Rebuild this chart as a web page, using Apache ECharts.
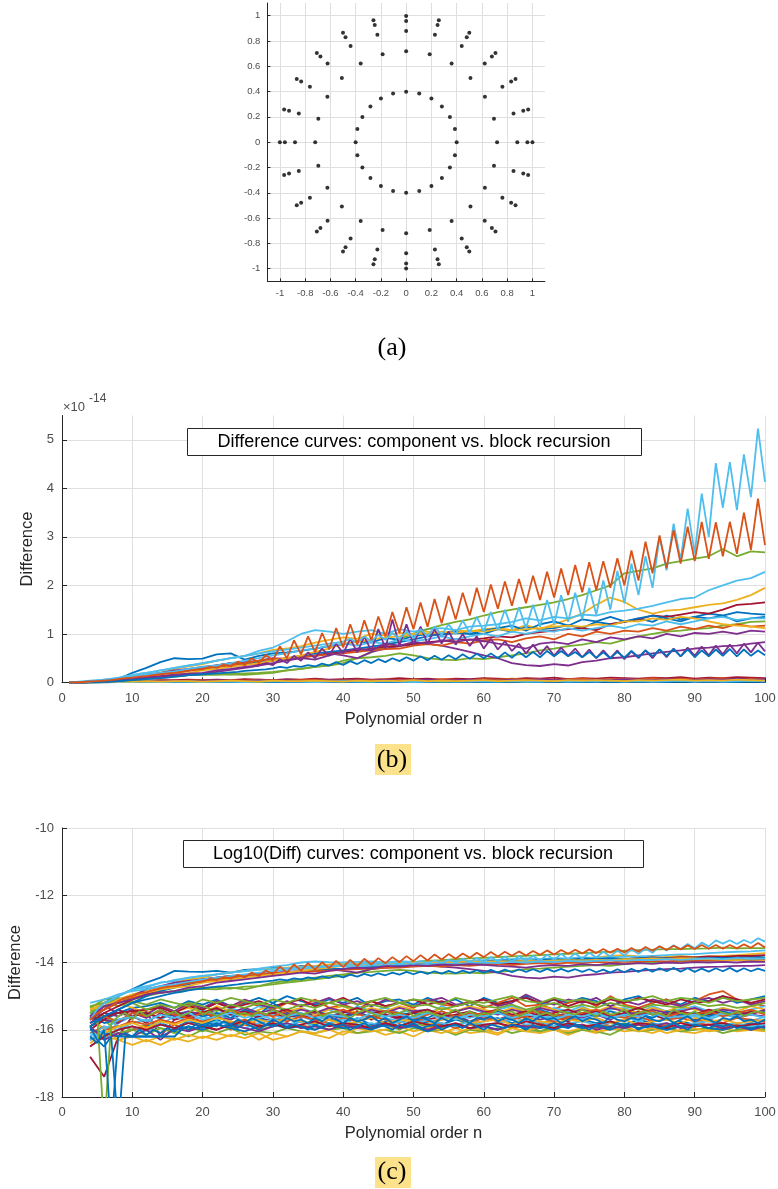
<!DOCTYPE html>
<html>
<head>
<meta charset="utf-8">
<script src="https://cdn.jsdelivr.net/npm/echarts@6.0.0/dist/echarts.min.js"></script>
<style>
  html, body { margin: 0; padding: 0; background: #fff; }
  #chart { width: 778px; height: 1189px; }
</style>
</head>
<body>
<div id="chart"></div>
<script>
// ---------- panel (a): node layout ----------
const nodeRadii = [0.4, 0.72, 0.88, 0.96, 1.0];
const nodeAngles = [0, 15, 30, 45, 60, 75, 90, 105, 120, 135, 150, 165,
  180, 195, 210, 225, 240, 255, 270, 285, 300, 315, 330, 345];
const aTicks = [-1, -0.8, -0.6, -0.4, -0.2, 0, 0.2, 0.4, 0.6, 0.8, 1];

// ---------- x positions (polynomial order n) ----------
const nDiff1 = []; for (let n = 1; n <= 100; n++) nDiff1.push(n);
const nDiff2 = [1]; for (let n = 2; n <= 100; n += 2) nDiff2.push(n);
const nLog1 = []; for (let n = 4; n <= 100; n++) nLog1.push(n);
const nLog2 = []; for (let n = 4; n <= 100; n += 2) nLog2.push(n);

// ---------- panel (b): difference (units of 1e-14) ----------
// zigzag curves, every n = 1..100
const diffOrangeZig = [0, 0, 0.01, 0.02, 0.03, 0.04, 0.05, 0.07, 0.09, 0.1,
  0.12, 0.13, 0.15, 0.17, 0.19, 0.2, 0.22, 0.24, 0.26, 0.27,
  0.32, 0.3, 0.37, 0.33, 0.43, 0.36, 0.5, 0.4, 0.57, 0.45,
  0.75, 0.5, 0.87, 0.58, 0.95, 0.62, 1.02, 0.68, 1.12, 0.72,
  1.2, 0.78, 1.28, 0.87, 1.36, 0.95, 1.45, 1.02, 1.55, 1.1,
  1.65, 1.15, 1.72, 1.22, 1.78, 1.3, 1.85, 1.38, 1.95, 1.45,
  2.02, 1.52, 2.08, 1.58, 2.13, 1.63, 2.2, 1.7, 2.28, 1.75,
  2.35, 1.8, 2.42, 1.86, 2.48, 1.9, 2.5, 1.95, 2.56, 2.0,
  2.72, 2.1, 2.9, 2.25, 3.03, 2.35, 3.14, 2.45, 3.21, 2.5,
  3.31, 2.55, 3.3, 2.6, 3.31, 2.65, 3.5, 2.73, 3.79, 2.83];
const diffCyanZig = [0, 0, 0.01, 0.02, 0.04, 0.06, 0.08, 0.1, 0.13, 0.15,
  0.18, 0.2, 0.22, 0.25, 0.27, 0.3, 0.32, 0.35, 0.37, 0.4,
  0.42, 0.45, 0.47, 0.5, 0.52, 0.55, 0.57, 0.6, 0.62, 0.64,
  0.66, 0.68, 0.7, 0.72, 0.74, 0.76, 0.78, 0.8, 0.82, 0.84,
  0.9, 0.82, 0.95, 0.85, 0.98, 0.88, 1.02, 0.9, 1.05, 0.92,
  1.1, 0.95, 1.15, 0.98, 1.2, 1.0, 1.28, 1.02, 1.35, 1.05,
  1.45, 1.08, 1.5, 1.1, 1.55, 1.12, 1.6, 1.15, 1.7, 1.2,
  1.8, 1.25, 1.85, 1.3, 1.95, 1.4, 2.1, 1.5, 2.3, 1.63,
  2.45, 1.8, 2.6, 1.95, 3.0, 2.31, 3.27, 2.52, 3.58, 2.66,
  3.89, 3.0, 4.52, 3.6, 4.54, 3.55, 4.7, 3.82, 5.23, 4.13];
const diffBlueZig = [0, 0, 0, 0.005, 0.01, 0.02, 0.025, 0.03, 0.04, 0.05,
  0.06, 0.07, 0.08, 0.09, 0.1, 0.12, 0.13, 0.15, 0.16, 0.17,
  0.18, 0.19, 0.2, 0.21, 0.22, 0.24, 0.25, 0.26, 0.27, 0.29,
  0.32, 0.3, 0.34, 0.32, 0.36, 0.33, 0.39, 0.35, 0.42, 0.36,
  0.44, 0.38, 0.46, 0.4, 0.48, 0.42, 0.5, 0.44, 0.52, 0.45,
  0.54, 0.46, 0.55, 0.47, 0.56, 0.48, 0.58, 0.49, 0.59, 0.5,
  0.6, 0.5, 0.62, 0.51, 0.63, 0.52, 0.63, 0.52, 0.65, 0.54,
  0.65, 0.54, 0.63, 0.52, 0.63, 0.51, 0.62, 0.5, 0.63, 0.51,
  0.65, 0.52, 0.66, 0.54, 0.68, 0.55, 0.69, 0.54, 0.68, 0.52,
  0.66, 0.54, 0.68, 0.55, 0.69, 0.54, 0.68, 0.55, 0.66, 0.56];
const diffPurpleZig = [0, 0, 0.01, 0.02, 0.03, 0.04, 0.05, 0.06, 0.07, 0.08,
  0.09, 0.1, 0.11, 0.12, 0.13, 0.14, 0.15, 0.16, 0.17, 0.18,
  0.2, 0.22, 0.24, 0.26, 0.28, 0.3, 0.32, 0.35, 0.4, 0.36,
  0.48, 0.4, 0.55, 0.45, 0.62, 0.5, 0.7, 0.55, 0.8, 0.6,
  0.9, 0.62, 0.95, 0.65, 1.1, 0.7, 1.3, 0.75, 1.2, 0.78,
  1.15, 0.8, 1.1, 0.8, 1.05, 0.78, 1.0, 0.75, 0.95, 0.7,
  0.9, 0.68, 0.85, 0.65, 0.8, 0.6, 0.78, 0.58, 0.75, 0.55,
  0.72, 0.55, 0.7, 0.52, 0.68, 0.5, 0.66, 0.5, 0.66, 0.48,
  0.64, 0.5, 0.66, 0.5, 0.68, 0.52, 0.7, 0.54, 0.72, 0.55,
  0.74, 0.56, 0.76, 0.58, 0.78, 0.6, 0.8, 0.62, 0.82, 0.64];

// smoother curves, n = 1, 2, 4, ..., 100
const diffCurves = [
  [0, 0, 0.01, 0.03, 0.07, 0.2, 0.3, 0.42, 0.5, 0.48, 0.49,
   0.58, 0.6, 0.47, 0.55, 0.6, 0.62, 0.65, 0.7, 0.75, 0.78,
   0.85, 0.82, 0.92, 0.88, 0.95, 1.0, 0.98, 1.02, 1.0, 1.0,
   1.1, 1.05, 1.15, 1.1, 1.12, 1.18, 1.12, 1.25, 1.2, 1.25,
   1.32, 1.25, 1.38, 1.3, 1.35, 1.42, 1.38, 1.45, 1.42, 1.4],
  [0, 0, 0.01, 0.03, 0.05, 0.08, 0.12, 0.2, 0.28, 0.33, 0.38,
   0.45, 0.5, 0.55, 0.6, 0.67, 0.7, 0.75, 0.82, 0.88, 0.93,
   0.9, 1.0, 0.97, 1.02, 1.0, 1.05, 1.0, 1.08, 1.05, 1.1,
   1.12, 1.08, 1.18, 1.1, 1.2, 1.3, 1.42, 1.6, 1.75, 1.66,
   1.5, 1.42, 1.48, 1.5, 1.55, 1.6, 1.63, 1.7, 1.8, 1.95],
  [0, 0, 0.01, 0.03, 0.08, 0.15, 0.2, 0.25, 0.3, 0.35, 0.4,
   0.45, 0.5, 0.55, 0.65, 0.72, 0.85, 1.0, 1.08, 1.05, 1.0,
   1.05, 1.08, 1.0, 1.1, 1.05, 1.1, 1.12, 1.08, 1.15, 1.17,
   1.2, 1.25, 1.32, 1.28, 1.35, 1.32, 1.4, 1.38, 1.45, 1.48,
   1.52, 1.58, 1.65, 1.72, 1.75, 1.9, 2.0, 2.1, 2.15, 2.28],
  [0, 0, 0.01, 0.02, 0.04, 0.06, 0.08, 0.1, 0.12, 0.15, 0.17,
   0.18, 0.17, 0.19, 0.2, 0.22, 0.25, 0.28, 0.32, 0.35, 0.4,
   0.5, 0.62, 0.75, 0.9, 1.0, 1.1, 1.18, 1.25, 1.3, 1.38,
   1.45, 1.5, 1.55, 1.6, 1.65, 1.72, 1.8, 1.9, 2.0, 2.25,
   2.3, 2.35, 2.45, 2.5, 2.55, 2.6, 2.75, 2.6, 2.7, 2.68],
  [0, 0, 0.01, 0.02, 0.03, 0.05, 0.08, 0.1, 0.12, 0.15, 0.16,
   0.16, 0.17, 0.16, 0.18, 0.2, 0.25, 0.28, 0.32, 0.36, 0.45,
   0.5, 0.52, 0.55, 0.6, 0.56, 0.5, 0.47, 0.46, 0.5, 0.48,
   0.52, 0.56, 0.6, 0.66, 0.7, 0.75, 0.78, 0.83, 0.8, 0.88,
   0.95, 1.0, 1.05, 1.07, 1.1, 1.12, 1.17, 1.2, 1.25, 1.26],
  [0, 0, 0.01, 0.02, 0.04, 0.1, 0.16, 0.2, 0.25, 0.28, 0.32,
   0.35, 0.4, 0.42, 0.45, 0.5, 0.48, 0.53, 0.55, 0.6, 0.56,
   0.5, 0.63, 0.7, 0.75, 0.78, 0.8, 0.76, 0.7, 0.63, 0.56,
   0.5, 0.4, 0.36, 0.34, 0.38, 0.35, 0.42, 0.45, 0.5, 0.52,
   0.56, 0.6, 0.63, 0.66, 0.7, 0.72, 0.75, 0.76, 0.8, 0.83],
  [0, 0, 0.01, 0.02, 0.04, 0.08, 0.12, 0.16, 0.2, 0.25, 0.3,
   0.35, 0.4, 0.4, 0.38, 0.45, 0.48, 0.52, 0.56, 0.6, 0.63,
   0.66, 0.7, 0.74, 0.76, 0.8, 0.83, 0.85, 0.89, 0.88, 0.91,
   0.95, 0.93, 1.0, 1.04, 1.07, 1.1, 1.12, 1.08, 1.2, 1.25,
   1.3, 1.38, 1.35, 1.4, 1.45, 1.42, 1.5, 1.6, 1.62, 1.65],
  [0, 0, 0, 0.01, 0.03, 0.06, 0.1, 0.15, 0.2, 0.25, 0.28,
   0.32, 0.35, 0.4, 0.42, 0.45, 0.5, 0.55, 0.6, 0.63, 0.66,
   0.7, 0.74, 0.78, 0.83, 0.89, 0.95, 1.0, 1.05, 1.0, 1.07,
   1.12, 1.17, 1.07, 1.2, 1.26, 1.17, 1.3, 1.26, 1.35, 1.26,
   1.32, 1.38, 1.32, 1.26, 1.35, 1.32, 1.38, 1.26, 1.32, 1.35],
  [0, 0, 0.01, 0.02, 0.05, 0.08, 0.12, 0.16, 0.2, 0.25, 0.28,
   0.32, 0.35, 0.4, 0.45, 0.48, 0.5, 0.52, 0.55, 0.58, 0.6,
   0.63, 0.66, 0.69, 0.7, 0.76, 0.79, 0.76, 0.83, 0.8, 0.87,
   0.89, 0.83, 0.91, 0.95, 0.89, 1.0, 0.95, 1.05, 1.0, 1.07,
   1.05, 1.12, 1.07, 1.15, 1.1, 1.17, 1.12, 1.2, 1.15, 1.17],
  [0, 0, 0.01, 0.03, 0.06, 0.1, 0.13, 0.16, 0.18, 0.2, 0.25,
   0.28, 0.32, 0.36, 0.4, 0.45, 0.5, 0.56, 0.63, 0.7, 0.8,
   0.83, 0.89, 0.93, 0.95, 1.0, 1.0, 1.05, 1.02, 1.07, 1.05,
   1.1, 1.07, 1.1, 1.12, 1.15, 1.17, 1.15, 1.2, 1.17, 1.26,
   1.26, 1.32, 1.29, 1.35, 1.32, 1.26, 1.2, 1.17, 1.15, 1.12],
  [0, 0.01, 0.04, 0.06, 0.08, 0.12, 0.16, 0.2, 0.23, 0.28, 0.32,
   0.35, 0.4, 0.45, 0.5, 0.56, 0.6, 0.66, 0.7, 0.76, 0.8,
   0.76, 0.83, 0.8, 0.89, 0.85, 0.89, 0.95, 0.89, 0.95, 1.0,
   0.95, 1.05, 1.0, 1.07, 1.05, 1.12, 1.07, 1.12, 1.17, 1.12,
   1.2, 1.17, 1.26, 1.2, 1.26, 1.32, 1.35, 1.29, 1.32, 1.32],
  [0, 0, 0.01, 0.03, 0.06, 0.08, 0.11, 0.13, 0.16, 0.18, 0.2,
   0.25, 0.28, 0.32, 0.35, 0.4, 0.45, 0.5, 0.47, 0.56, 0.63,
   0.7, 0.66, 0.8, 0.76, 0.83, 0.8, 0.87, 0.83, 0.89, 0.85,
   0.8, 0.76, 0.7, 0.8, 0.83, 0.79, 0.89, 0.83, 0.93, 0.89,
   0.95, 0.91, 1.0, 0.95, 1.02, 1.0, 1.05, 1.0, 1.07, 1.05]
];
const diffCurveColors = ['blue', 'yellow', 'cyan', 'green', 'green', 'purple',
  'red', 'blue', 'orange', 'yellow', 'cyan', 'purple'];

// curves that stay near zero, n = 1, 2, 4, ..., 100
const diffFloor = [
  [0, 0, 0, 0, 0.01, 0.01, 0.01, 0.01, 0.01, 0.01, 0.01,
   0.01, 0.01, 0.01, 0.01, 0.01, 0.01, 0.01, 0.01, 0.01, 0.01,
   0.01, 0.01, 0.01, 0.01, 0.01, 0.01, 0.01, 0.01, 0.02, 0.01,
   0.01, 0.02, 0.01, 0.01, 0.02, 0.01, 0.01, 0.02, 0.01, 0.01,
   0.02, 0.01, 0.01, 0.02, 0.01, 0.02, 0.01, 0.01, 0.02, 0.01],
  [0, 0, 0.01, 0.02, 0.03, 0.04, 0.04, 0.05, 0.05, 0.06, 0.05,
   0.06, 0.05, 0.07, 0.06, 0.05, 0.07, 0.06, 0.08, 0.06, 0.07,
   0.08, 0.06, 0.07, 0.09, 0.07, 0.08, 0.06, 0.08, 0.07, 0.09,
   0.08, 0.07, 0.09, 0.08, 0.1, 0.07, 0.09, 0.08, 0.1, 0.09,
   0.08, 0.1, 0.09, 0.11, 0.08, 0.1, 0.09, 0.11, 0.1, 0.09],
  [0, 0, 0.01, 0.01, 0.02, 0.03, 0.03, 0.04, 0.03, 0.04, 0.05,
   0.04, 0.05, 0.04, 0.06, 0.05, 0.04, 0.05, 0.06, 0.05, 0.04,
   0.06, 0.05, 0.07, 0.05, 0.06, 0.05, 0.07, 0.06, 0.05, 0.07,
   0.06, 0.08, 0.06, 0.07, 0.05, 0.07, 0.08, 0.06, 0.07, 0.08,
   0.06, 0.09, 0.07, 0.08, 0.06, 0.08, 0.09, 0.07, 0.08, 0.07],
  [0, 0, 0, 0.01, 0.01, 0.02, 0.02, 0.02, 0.03, 0.02, 0.03,
   0.02, 0.03, 0.03, 0.02, 0.03, 0.04, 0.03, 0.02, 0.03, 0.04,
   0.03, 0.02, 0.04, 0.03, 0.03, 0.04, 0.02, 0.03, 0.04, 0.03,
   0.04, 0.03, 0.02, 0.04, 0.03, 0.04, 0.03, 0.05, 0.03, 0.04,
   0.03, 0.04, 0.05, 0.03, 0.04, 0.03, 0.05, 0.04, 0.03, 0.04],
  [0, 0, 0.01, 0.01, 0.02, 0.02, 0.03, 0.03, 0.04, 0.03, 0.04,
   0.05, 0.04, 0.03, 0.05, 0.04, 0.05, 0.03, 0.04, 0.05, 0.04,
   0.05, 0.04, 0.06, 0.04, 0.05, 0.06, 0.04, 0.05, 0.06, 0.05,
   0.04, 0.06, 0.05, 0.07, 0.05, 0.06, 0.04, 0.06, 0.05, 0.07,
   0.06, 0.05, 0.07, 0.06, 0.05, 0.07, 0.06, 0.08, 0.06, 0.07],
  [0, 0, 0, 0.01, 0.01, 0.01, 0.02, 0.01, 0.02, 0.02, 0.01,
   0.02, 0.02, 0.01, 0.02, 0.03, 0.02, 0.02, 0.01, 0.02, 0.03,
   0.02, 0.02, 0.03, 0.02, 0.01, 0.02, 0.03, 0.02, 0.02, 0.03,
   0.02, 0.03, 0.02, 0.02, 0.03, 0.02, 0.03, 0.02, 0.04, 0.02,
   0.03, 0.02, 0.03, 0.04, 0.02, 0.03, 0.02, 0.03, 0.04, 0.03],
  [0, 0, 0, 0.01, 0.02, 0.02, 0.03, 0.02, 0.03, 0.03, 0.02,
   0.03, 0.04, 0.03, 0.02, 0.04, 0.03, 0.03, 0.04, 0.03, 0.02,
   0.04, 0.03, 0.04, 0.03, 0.05, 0.03, 0.04, 0.03, 0.04, 0.05,
   0.03, 0.04, 0.05, 0.04, 0.03, 0.05, 0.04, 0.05, 0.04, 0.03,
   0.05, 0.04, 0.05, 0.06, 0.04, 0.05, 0.04, 0.06, 0.05, 0.04]
];
const diffFloorColors = ['blue', 'red', 'orange', 'green', 'purple', 'cyan', 'yellow'];

// ---------- panel (c): log10(difference) ----------
// zigzag curves, every n = 4..100
const logOrangeZig = [-15.7, -15.52, -15.4, -15.3, -15.15, -15.05, -15.0, -14.92, -14.89, -14.82,
  -14.77, -14.72, -14.7, -14.66, -14.62, -14.59, -14.57, -14.49, -14.52, -14.43,
  -14.48, -14.37, -14.44, -14.3, -14.4, -14.24, -14.35, -14.12, -14.3, -14.06,
  -14.24, -14.02, -14.21, -13.99, -14.17, -13.95, -14.14, -13.92, -14.11, -13.89,
  -14.06, -13.87, -14.02, -13.84, -13.99, -13.81, -13.96, -13.78, -13.94, -13.76,
  -13.91, -13.75, -13.89, -13.73, -13.86, -13.71, -13.84, -13.69, -13.82, -13.68,
  -13.8, -13.67, -13.79, -13.66, -13.77, -13.64, -13.76, -13.63, -13.74, -13.62,
  -13.73, -13.61, -13.72, -13.6, -13.71, -13.59, -13.7, -13.57, -13.68, -13.54,
  -13.65, -13.52, -13.63, -13.5, -13.61, -13.49, -13.6, -13.48, -13.59, -13.48,
  -13.59, -13.48, -13.58, -13.46, -13.56, -13.42, -13.55];
const logCyanZig = [-15.7, -15.4, -15.22, -15.1, -15.0, -14.89, -14.82, -14.74, -14.7, -14.66,
  -14.6, -14.57, -14.52, -14.49, -14.46, -14.43, -14.4, -14.38, -14.35, -14.33,
  -14.3, -14.28, -14.26, -14.24, -14.22, -14.21, -14.19, -14.18, -14.17, -14.15,
  -14.14, -14.13, -14.12, -14.11, -14.1, -14.09, -14.08, -14.05, -14.09, -14.02,
  -14.07, -14.01, -14.06, -13.99, -14.05, -13.98, -14.04, -13.96, -14.02, -13.94,
  -14.01, -13.92, -14.0, -13.89, -13.99, -13.87, -13.98, -13.84, -13.97, -13.82,
  -13.96, -13.81, -13.95, -13.8, -13.94, -13.77, -13.92, -13.74, -13.9, -13.73,
  -13.89, -13.71, -13.85, -13.68, -13.82, -13.64, -13.79, -13.61, -13.74, -13.59,
  -13.71, -13.52, -13.64, -13.49, -13.6, -13.45, -13.58, -13.41, -13.52, -13.34,
  -13.44, -13.34, -13.45, -13.33, -13.42, -13.28, -13.38];
const logBlueZig = [-15.8, -15.7, -15.6, -15.5, -15.4, -15.3, -15.2, -15.15, -15.1, -15.05,
  -15.0, -14.95, -14.9, -14.87, -14.83, -14.8, -14.77, -14.74, -14.72, -14.7,
  -14.67, -14.65, -14.62, -14.6, -14.58, -14.56, -14.54, -14.5, -14.53, -14.47,
  -14.5, -14.44, -14.48, -14.41, -14.46, -14.38, -14.44, -14.36, -14.42, -14.34,
  -14.4, -14.32, -14.38, -14.3, -14.36, -14.28, -14.35, -14.27, -14.34, -14.26,
  -14.33, -14.25, -14.32, -14.24, -14.31, -14.23, -14.3, -14.22, -14.3, -14.21,
  -14.29, -14.2, -14.28, -14.2, -14.28, -14.19, -14.27, -14.19, -14.27, -14.2,
  -14.28, -14.2, -14.29, -14.21, -14.3, -14.2, -14.29, -14.19, -14.28, -14.18,
  -14.27, -14.17, -14.26, -14.16, -14.27, -14.17, -14.28, -14.18, -14.27, -14.17,
  -14.26, -14.16, -14.27, -14.17, -14.26, -14.18, -14.25];

// curves that drop out at small n (log of zero), every n = 4..100
const logDrop = [
  [-15.3, -15.5, -19, -15.8, -15.6, -15.5, -15.7, -15.45, -15.6, -15.5,
   -15.4, -15.55, -15.45, -15.6, -15.5, -15.35, -15.55, -15.45, -15.6, -15.5,
   -15.4, -15.55, -15.5, -15.6, -15.45, -15.55, -15.4, -15.5, -15.6, -15.45,
   -15.55, -15.5, -15.4, -15.6, -15.5, -15.45, -15.55, -15.65, -15.5, -15.4,
   -15.5, -15.6, -15.45, -15.55, -15.5, -15.4, -15.6, -15.5, -15.45, -15.55,
   -15.6, -15.5, -15.4, -15.55, -15.45, -15.6, -15.5, -15.55, -15.4, -15.5,
   -15.45, -15.6, -15.5, -15.4, -15.55, -15.5, -15.6, -15.45, -15.5, -15.55,
   -15.4, -15.5, -15.6, -15.45, -15.55, -15.5, -15.4, -15.6, -15.5, -15.45,
   -15.55, -15.5, -15.6, -15.4, -15.5, -15.55, -15.45, -15.6, -15.5, -15.4,
   -15.5, -15.55, -15.45, -15.6, -15.5, -15.45, -15.5],
  [-16.2, -16.4, -16.0, -19, -16.2, -16.1, -16.2, -16.0, -16.15, -16.0,
   -16.1, -15.95, -16.05, -15.9, -16.0, -15.85, -15.95, -15.8, -15.9, -15.75,
   -15.85, -15.7, -15.8, -15.65, -15.75, -15.85, -15.7, -15.8, -15.65, -15.75,
   -15.7, -15.8, -15.65, -15.75, -15.6, -15.7, -15.8, -15.65, -15.75, -15.7,
   -15.6, -15.75, -15.65, -15.8, -15.7, -15.6, -15.75, -15.65, -15.7, -15.8,
   -15.65, -15.75, -15.6, -15.7, -15.8, -15.65, -15.7, -15.6, -15.75, -15.65,
   -15.7, -15.8, -15.65, -15.75, -15.6, -15.7, -15.65, -15.8, -15.7, -15.6,
   -15.75, -15.65, -15.7, -15.8, -15.6, -15.7, -15.75, -15.65, -15.7, -15.6,
   -15.7, -15.75, -15.65, -15.8, -15.7, -15.6, -15.75, -15.65, -15.7, -15.8,
   -15.65, -15.7, -15.6, -15.75, -15.7, -15.8, -15.7],
  [-15.9, -16.3, -16.5, -16.2, -19, -16.2, -16.2, -16.2, -16.2, -16.2,
   -16.2, -16.2, -16.2, -16.0, -15.9, -15.95, -15.85, -15.9, -15.8, -15.9,
   -15.85, -15.95, -15.8, -15.9, -16.0, -15.85, -15.9, -15.8, -15.95, -15.85,
   -15.9, -16.0, -15.85, -15.95, -15.8, -15.9, -15.85, -16.0, -15.9, -15.8,
   -15.95, -15.85, -15.9, -16.0, -15.85, -15.9, -15.8, -15.95, -15.9, -15.85,
   -16.0, -15.9, -15.85, -15.95, -15.8, -15.9, -16.0, -15.85, -15.9, -15.95,
   -15.85, -15.9, -16.0, -15.85, -15.95, -15.9, -15.8, -15.9, -15.95, -15.85,
   -15.9, -16.0, -15.85, -15.9, -15.95, -15.8, -15.9, -15.85, -16.0, -15.9,
   -15.85, -15.95, -15.9, -15.8, -15.9, -16.0, -15.85, -15.9, -15.95, -15.85,
   -15.9, -15.85, -15.95, -15.9, -16.0, -15.9, -15.95]
];
const logDropColors = ['green', 'blue', 'blue'];

// upper band, n = 4, 6, ..., 100
const logUpper = [
  [-15.6, -15.2, -15.0, -14.8, -14.6, -14.45, -14.25, -14.27, -14.28, -14.25, -14.3, -14.22, -14.2, -14.15,
   -14.18, -14.1, -14.12, -14.08, -14.1, -14.05, -14.08, -14.02, -14.05, -14.0, -14.03, -13.98, -14.0, -13.97,
   -14.0, -13.95, -13.98, -13.93, -13.96, -13.92, -13.95, -13.9, -13.93, -13.88, -13.9, -13.87, -13.9, -13.85,
   -13.88, -13.84, -13.86, -13.83, -13.85, -13.82, -13.85],
  [-15.4, -15.2, -15.1, -14.95, -14.85, -14.75, -14.6, -14.5, -14.45, -14.35, -14.3, -14.25, -14.2, -14.18,
   -14.15, -14.12, -14.1, -14.06, -14.03, -14.05, -14.0, -14.02, -13.98, -14.0, -13.97, -14.0, -13.95, -13.98,
   -13.96, -13.94, -13.97, -13.92, -13.95, -13.93, -13.9, -13.88, -13.85, -13.8, -13.78, -13.82, -13.85, -13.83,
   -13.8, -13.84, -13.82, -13.8, -13.78, -13.75, -13.72],
  [-15.5, -15.3, -15.0, -14.8, -14.75, -14.6, -14.55, -14.45, -14.4, -14.35, -14.3, -14.25, -14.18, -14.12,
   -14.08, -14.0, -13.97, -13.99, -14.0, -13.98, -13.97, -14.0, -13.96, -13.98, -13.95, -13.97, -13.94, -13.96,
   -13.93, -13.92, -13.9, -13.88, -13.9, -13.87, -13.88, -13.85, -13.86, -13.84, -13.83, -13.82, -13.8, -13.78,
   -13.76, -13.75, -13.72, -13.7, -13.68, -13.67, -13.64],
  [-15.3, -15.2, -15.1, -15.05, -14.95, -14.9, -14.85, -14.8, -14.75, -14.75, -14.78, -14.72, -14.7, -14.65,
   -14.6, -14.55, -14.5, -14.45, -14.4, -14.3, -14.2, -14.12, -14.05, -14.0, -13.95, -13.93, -13.9, -13.88,
   -13.86, -13.84, -13.82, -13.8, -13.78, -13.76, -13.74, -13.72, -13.7, -13.68, -13.65, -13.63, -13.62, -13.6,
   -13.6, -13.59, -13.58, -13.56, -13.58, -13.57, -13.57],
  [-15.5, -15.3, -15.2, -15.1, -15.0, -14.9, -14.85, -14.8, -14.78, -14.8, -14.75, -14.8, -14.7, -14.6,
   -14.55, -14.5, -14.45, -14.4, -14.35, -14.3, -14.28, -14.25, -14.22, -14.25, -14.3, -14.32, -14.33, -14.3,
   -14.32, -14.28, -14.25, -14.2, -14.18, -14.15, -14.12, -14.1, -14.08, -14.1, -14.05, -14.02, -14.0, -13.98,
   -13.97, -13.95, -13.95, -13.93, -13.92, -13.9, -13.9],
  [-15.7, -15.4, -15.1, -15.0, -14.8, -14.7, -14.6, -14.55, -14.5, -14.45, -14.4, -14.38, -14.35, -14.3,
   -14.28, -14.25, -14.22, -14.2, -14.25, -14.3, -14.2, -14.15, -14.12, -14.1, -14.08, -14.12, -14.15, -14.2,
   -14.25, -14.3, -14.4, -14.45, -14.47, -14.42, -14.45, -14.38, -14.35, -14.3, -14.28, -14.25, -14.22, -14.2,
   -14.18, -14.15, -14.13, -14.12, -14.1, -14.1, -14.08],
  [-15.8, -15.5, -15.3, -15.1, -14.95, -14.8, -14.7, -14.6, -14.5, -14.45, -14.4, -14.38, -14.35, -14.32,
   -14.3, -14.27, -14.25, -14.22, -14.2, -14.18, -14.15, -14.13, -14.12, -14.1, -14.08, -14.07, -14.05, -14.06,
   -14.04, -14.02, -14.03, -14.0, -13.98, -13.97, -13.95, -13.97, -13.93, -13.92, -13.9, -13.88, -13.85, -13.87,
   -13.84, -13.85, -13.82, -13.83, -13.8, -13.8, -13.78],
  [-15.9, -15.6, -15.4, -15.2, -15.0, -14.85, -14.75, -14.65, -14.55, -14.5, -14.45, -14.4, -14.38, -14.35,
   -14.3, -14.28, -14.25, -14.2, -14.18, -14.15, -14.13, -14.1, -14.08, -14.05, -14.02, -14.0, -13.98, -14.0,
   -13.97, -13.95, -13.93, -13.97, -13.92, -13.9, -13.93, -13.88, -13.9, -13.87, -13.9, -13.88, -13.86, -13.88,
   -13.9, -13.87, -13.88, -13.86, -13.9, -13.88, -13.87],
  [-15.6, -15.4, -15.2, -15.05, -14.9, -14.8, -14.7, -14.6, -14.55, -14.5, -14.45, -14.4, -14.35, -14.32,
   -14.3, -14.28, -14.26, -14.24, -14.22, -14.2, -14.18, -14.16, -14.15, -14.12, -14.1, -14.12, -14.08, -14.1,
   -14.06, -14.05, -14.08, -14.04, -14.02, -14.05, -14.0, -14.02, -13.98, -14.0, -13.97, -13.98, -13.95, -13.97,
   -13.94, -13.96, -13.93, -13.95, -13.92, -13.94, -13.93],
  [-15.4, -15.3, -15.1, -15.0, -14.9, -14.8, -14.75, -14.7, -14.6, -14.55, -14.5, -14.45, -14.4, -14.35,
   -14.3, -14.25, -14.2, -14.15, -14.1, -14.08, -14.05, -14.03, -14.02, -14.0, -14.0, -13.98, -13.99, -13.97,
   -13.98, -13.96, -13.97, -13.95, -13.96, -13.94, -13.93, -13.94, -13.92, -13.93, -13.9, -13.9, -13.88, -13.89,
   -13.87, -13.88, -13.9, -13.92, -13.93, -13.94, -13.95],
  [-15.2, -15.1, -14.95, -14.85, -14.8, -14.7, -14.65, -14.58, -14.5, -14.45, -14.4, -14.35, -14.3, -14.25,
   -14.22, -14.18, -14.15, -14.12, -14.1, -14.12, -14.08, -14.1, -14.05, -14.07, -14.05, -14.03, -14.05, -14.02,
   -14.0, -14.02, -13.98, -14.0, -13.97, -13.98, -13.95, -13.97, -13.95, -13.93, -13.95, -13.92, -13.93, -13.9,
   -13.92, -13.9, -13.88, -13.9, -13.87, -13.89, -13.88],
  [-15.6, -15.3, -15.2, -15.1, -14.95, -14.9, -14.85, -14.75, -14.7, -14.6, -14.55, -14.5, -14.45, -14.4,
   -14.35, -14.3, -14.33, -14.25, -14.2, -14.15, -14.18, -14.1, -14.12, -14.08, -14.1, -14.06, -14.08, -14.05,
   -14.07, -14.1, -14.12, -14.15, -14.1, -14.08, -14.1, -14.05, -14.08, -14.03, -14.05, -14.02, -14.04, -14.0,
   -14.02, -13.99, -14.0, -13.98, -14.0, -13.97, -13.98]
];
const logUpperColors = ['blue', 'yellow', 'cyan', 'green', 'green', 'purple',
  'red', 'blue', 'orange', 'yellow', 'cyan', 'purple'];

// lower band, n = 4, 6, ..., 100
const logLower = [
  [-15.9, -15.7, -15.5, -15.35, -15.3, -15.2, -15.35, -15.15, -15.25, -15.1, -15.3, -15.2, -15.05, -15.2,
   -15.0, -15.15, -15.25, -15.1, -15.2, -15.05, -15.3, -15.15, -15.1, -15.25, -15.05, -15.2, -15.1, -15.3,
   -15.05, -15.2, -15.15, -15.0, -15.25, -15.1, -15.2, -15.05, -15.15, -15.3, -15.1, -15.0, -15.2, -15.1,
   -15.25, -15.05, -15.15, -15.0, -15.2, -15.1, -15.0],
  [-16.0, -16.2, -15.8, -15.5, -15.4, -15.3, -15.45, -15.25, -15.4, -15.2, -15.35, -15.15, -15.3, -15.4,
   -15.2, -15.3, -15.1, -15.35, -15.25, -15.4, -15.15, -15.3, -15.2, -15.35, -15.1, -15.25, -15.3, -15.15,
   -15.35, -15.2, -15.05, -15.3, -15.25, -15.4, -15.2, -15.1, -15.3, -15.0, -15.25, -15.35, -15.2, -15.1,
   -15.3, -15.15, -14.95, -14.85, -15.1, -15.2, -15.3],
  [-15.6, -16.0, -16.3, -16.45, -16.3, -16.45, -16.25, -16.35, -16.2, -16.3, -16.15, -16.25, -16.1, -16.3,
   -16.2, -16.05, -16.15, -16.25, -16.05, -16.1, -16.0, -16.15, -16.05, -16.2, -16.0, -16.1, -15.95, -16.1,
   -16.05, -16.15, -15.95, -16.05, -16.1, -16.0, -16.15, -16.0, -16.1, -15.95, -16.05, -16.0, -16.1, -15.95,
   -16.05, -16.1, -16.0, -15.95, -16.05, -16.0, -16.05],
  [-15.65, -15.3, -15.5, -15.6, -15.45, -16.2, -15.7, -15.55, -15.8, -15.6, -15.7, -15.5, -15.65, -15.75,
   -15.55, -15.65, -15.5, -15.7, -15.6, -15.45, -15.65, -15.55, -15.7, -15.6, -15.5, -15.65, -15.55, -15.75,
   -15.6, -15.45, -15.65, -15.55, -15.7, -15.6, -15.5, -15.65, -15.55, -15.7, -15.5, -15.6, -15.45, -15.65,
   -15.55, -15.7, -15.6, -15.5, -15.65, -15.55, -15.6],
  [-15.4, -15.6, -15.9, -16.0, -15.85, -15.95, -16.1, -15.9, -16.05, -15.85, -15.95, -15.8, -16.0, -15.9,
   -15.8, -15.95, -15.85, -16.0, -15.9, -15.75, -15.9, -15.85, -16.0, -15.8, -15.9, -15.95, -15.85, -15.75,
   -15.9, -15.8, -15.95, -15.85, -16.05, -15.9, -15.8, -15.95, -15.85, -15.9, -15.8, -15.95, -15.85, -16.0,
   -15.9, -15.8, -15.95, -15.85, -15.9, -16.0, -15.9],
  [-16.5, -16.2, -15.8, -15.6, -15.5, -15.7, -15.45, -15.6, -15.4, -15.55, -15.35, -15.5, -15.3, -15.45,
   -15.55, -15.35, -15.5, -15.4, -15.6, -15.3, -15.45, -15.35, -15.5, -15.4, -15.55, -15.3, -15.45, -15.35,
   -15.5, -15.4, -15.3, -15.45, -15.55, -15.35, -15.45, -15.3, -15.5, -15.4, -15.35, -15.5, -15.3, -15.45,
   -15.4, -15.3, -15.45, -15.35, -15.5, -15.4, -15.3],
  [-16.8, -17.4, -16.2, -15.6, -15.8, -15.5, -15.7, -15.6, -15.45, -15.7, -15.55, -15.8, -15.6, -15.5,
   -15.65, -15.5, -15.75, -15.55, -15.6, -15.45, -15.7, -15.55, -15.65, -15.5, -15.7, -15.6, -15.55, -15.45,
   -15.6, -15.7, -15.55, -15.65, -15.5, -15.6, -15.75, -15.55, -15.5, -15.65, -15.6, -15.45, -15.55, -15.7,
   -15.6, -15.5, -15.55, -15.45, -15.6, -15.5, -15.45],
  [-16.3, -16.1, -16.2, -16.0, -15.9, -15.8, -15.95, -15.75, -15.85, -15.7, -15.9, -15.75, -15.65, -15.8,
   -15.9, -15.75, -15.85, -15.7, -15.8, -15.65, -15.85, -15.75, -15.9, -15.7, -15.8, -15.85, -15.7, -15.8,
   -15.75, -15.65, -15.8, -15.7, -15.85, -15.75, -15.9, -15.7, -15.8, -15.75, -15.85, -15.7, -15.8, -15.9,
   -15.75, -15.85, -15.7, -15.8, -15.9, -15.8, -15.85],
  [-16.1, -15.9, -16.2, -16.0, -15.9, -16.1, -15.85, -16.0, -15.9, -15.8, -16.0, -15.85, -15.95, -15.8,
   -15.95, -15.85, -16.0, -15.8, -15.9, -15.85, -15.95, -15.8, -15.9, -15.85, -16.0, -15.8, -15.95, -15.85,
   -15.9, -15.8, -15.95, -15.85, -15.9, -15.75, -15.9, -15.85, -15.95, -15.8, -15.9, -15.85, -16.0, -15.85,
   -15.9, -15.8, -15.85, -15.95, -15.85, -15.9, -15.95],
  [-15.5, -15.3, -15.2, -15.35, -15.5, -15.3, -15.45, -15.35, -15.5, -15.3, -15.45, -15.6, -15.4, -15.3,
   -15.45, -15.35, -15.55, -15.4, -15.3, -15.5, -15.35, -15.45, -15.3, -15.4, -15.55, -15.35, -15.45, -15.3,
   -15.4, -15.5, -15.35, -15.45, -15.3, -15.4, -15.55, -15.35, -15.45, -15.3, -15.4, -15.5, -15.35, -15.45,
   -15.3, -15.4, -15.5, -15.35, -15.45, -15.3, -15.4],
  [-15.7, -15.5, -15.6, -15.4, -15.55, -15.3, -15.45, -15.2, -15.35, -15.15, -15.3, -15.1, -15.25, -15.35,
   -15.15, -15.3, -15.2, -15.05, -15.25, -15.15, -15.3, -15.1, -15.2, -15.3, -15.15, -15.05, -15.25, -15.2,
   -15.1, -15.3, -15.2, -14.95, -15.15, -15.25, -15.1, -15.2, -15.05, -15.3, -15.15, -15.25, -15.1, -15.2,
   -15.3, -15.15, -15.05, -15.2, -15.1, -15.25, -15.15],
  [-15.5, -15.7, -16.1, -16.0, -16.15, -15.95, -16.05, -16.2, -16.0, -16.1, -15.95, -16.15, -16.05, -16.1,
   -15.95, -16.05, -16.1, -16.0, -15.95, -16.1, -16.05, -16.0, -16.1, -15.95, -16.05, -16.0, -16.15, -16.0,
   -16.05, -15.95, -16.1, -16.0, -16.05, -15.95, -16.1, -16.0, -16.05, -16.15, -15.95, -16.05, -16.0, -15.95,
   -16.05, -16.0, -15.95, -16.1, -16.0, -15.95, -16.0],
  [-16.2, -15.9, -16.0, -15.8, -15.7, -15.85, -15.6, -15.75, -15.6, -15.7, -15.55, -15.8, -15.65, -15.55,
   -15.7, -15.6, -15.75, -15.55, -15.65, -15.7, -15.5, -15.65, -15.75, -15.6, -15.5, -15.7, -15.6, -15.65,
   -15.55, -15.7, -15.6, -15.75, -15.55, -15.65, -15.6, -15.7, -15.55, -15.65, -15.6, -15.75, -15.6, -15.5,
   -15.65, -15.6, -15.7, -15.55, -15.65, -15.75, -15.6],
  [-15.9, -15.6, -15.5, -15.45, -15.4, -15.35, -15.5, -15.3, -15.4, -15.2, -15.35, -15.25, -15.15, -15.3,
   -15.2, -15.1, -15.3, -15.2, -15.05, -15.25, -15.15, -15.3, -15.2, -15.1, -15.25, -15.15, -15.3, -15.2,
   -15.1, -15.25, -15.15, -15.05, -15.2, -15.1, -15.3, -15.15, -15.25, -15.1, -15.2, -15.05, -15.15, -15.25,
   -15.1, -15.2, -15.15, -15.0, -15.1, -15.2, -15.1],
  [-15.6, -15.8, -15.7, -15.6, -15.5, -15.65, -15.55, -15.45, -15.6, -15.5, -15.65, -15.4, -15.55, -15.2,
   -15.5, -15.6, -15.45, -15.55, -15.65, -15.5, -15.6, -15.45, -15.55, -15.5, -15.65, -15.45, -15.6, -15.5,
   -15.55, -15.45, -15.6, -15.5, -15.4, -15.55, -15.65, -15.5, -15.6, -15.45, -15.55, -15.5, -15.65, -15.45,
   -15.55, -15.5, -15.6, -15.45, -15.55, -15.5, -15.45],
  [-16.3, -16.0, -15.9, -15.75, -15.85, -15.7, -15.8, -15.65, -15.75, -15.6, -15.8, -15.7, -15.85, -15.65,
   -15.75, -15.6, -15.7, -15.8, -15.65, -15.75, -15.6, -15.7, -15.8, -15.65, -15.75, -15.7, -15.6, -15.8,
   -15.65, -15.75, -15.7, -15.6, -15.8, -15.7, -15.65, -15.75, -15.65, -15.8, -15.7, -15.6, -15.75, -15.7,
   -15.65, -15.75, -15.7, -15.8, -15.65, -15.7, -15.75],
  [-16.0, -16.2, -16.3, -16.2, -16.35, -16.2, -16.3, -16.15, -16.25, -16.1, -16.2, -16.05, -16.3, -16.1,
   -16.2, -16.05, -16.1, -16.0, -16.15, -15.95, -16.05, -16.0, -15.9, -16.05, -15.95, -16.0, -16.1, -15.95,
   -16.0, -16.1, -15.95, -16.05, -15.9, -16.0, -16.05, -15.95, -16.05, -16.0, -15.9, -16.05, -15.95, -16.1,
   -16.0, -15.95, -16.05, -16.0, -15.9, -16.0, -15.95],
  [-15.6, -15.7, -15.8, -15.5, -15.65, -15.4, -15.6, -15.45, -15.55, -15.4, -15.5, -15.35, -15.5, -15.4,
   -15.55, -15.4, -15.5, -15.35, -15.45, -15.55, -15.4, -15.5, -15.35, -15.45, -15.4, -15.55, -15.45, -15.35,
   -15.45, -15.55, -15.4, -15.5, -15.35, -15.45, -15.5, -15.4, -15.5, -15.35, -15.45, -15.55, -15.4, -15.5,
   -15.45, -15.35, -15.5, -15.4, -15.45, -15.55, -15.4],
  [-15.35, -15.1, -15.05, -15.2, -15.4, -15.25, -15.35, -15.2, -15.3, -15.45, -15.25, -15.35, -15.2, -15.3,
   -15.4, -15.25, -15.35, -15.2, -15.3, -15.4, -15.25, -15.35, -15.2, -15.3, -15.25, -15.4, -15.3, -15.2,
   -15.3, -15.35, -15.25, -15.4, -15.3, -15.2, -15.35, -15.25, -15.35, -15.2, -15.3, -15.4, -15.25, -15.3,
   -15.35, -15.2, -15.3, -15.25, -15.35, -15.3, -15.2],
  [-16.1, -16.3, -16.0, -15.9, -16.05, -15.85, -15.95, -15.8, -15.9, -15.75, -15.85, -15.95, -15.8, -15.7,
   -15.85, -15.75, -15.9, -15.8, -15.7, -15.85, -15.8, -15.9, -15.75, -15.85, -15.7, -15.8, -15.9, -15.75,
   -15.85, -15.8, -15.7, -15.85, -15.75, -15.9, -15.8, -15.75, -15.85, -15.8, -15.95, -15.75, -15.85, -15.8,
   -15.9, -15.8, -15.75, -15.85, -15.8, -15.9, -15.85],
  [-16.0, -15.7, -15.4, -15.6, -15.5, -15.65, -15.45, -15.6, -15.5, -15.35, -15.55, -15.45, -15.6, -15.5,
   -15.4, -15.55, -15.45, -15.6, -15.5, -15.35, -15.5, -15.45, -15.6, -15.5, -15.4, -15.55, -15.45, -15.6,
   -15.5, -15.4, -15.55, -15.45, -15.6, -15.5, -15.4, -15.55, -15.45, -15.6, -15.5, -15.35, -15.5, -15.55,
   -15.45, -15.55, -15.4, -15.5, -15.6, -15.45, -15.5],
  [-16.0, -16.1, -16.2, -16.2, -16.2, -16.2, -16.0, -15.9, -16.0, -15.85, -15.95, -16.05, -15.9, -15.85,
   -15.95, -15.9, -16.0, -15.85, -15.95, -15.9, -16.0, -15.85, -15.95, -15.9, -16.05, -15.9, -15.85, -15.95,
   -15.9, -16.0, -15.85, -15.95, -15.9, -16.0, -15.85, -15.95, -15.9, -16.0, -15.85, -15.95, -15.9, -16.0,
   -15.9, -15.85, -15.95, -16.0, -15.9, -15.95, -15.9],
  [-15.8, -15.6, -15.75, -15.5, -15.6, -15.45, -15.55, -15.65, -15.5, -15.6, -15.4, -15.55, -15.5, -15.6,
   -15.45, -15.55, -15.6, -15.5, -15.4, -15.55, -15.6, -15.45, -15.5, -15.65, -15.55, -15.45, -15.6, -15.5,
   -15.55, -15.4, -15.6, -15.5, -15.45, -15.55, -15.6, -15.5, -15.4, -15.55, -15.65, -15.5, -15.45, -15.6,
   -15.5, -15.55, -15.45, -15.6, -15.5, -15.4, -15.55],
  [-16.4, -16.1, -15.9, -15.8, -15.95, -15.75, -15.85, -15.7, -15.8, -15.65, -15.75, -15.85, -15.7, -15.8,
   -15.65, -15.75, -15.8, -15.7, -15.85, -15.75, -15.65, -15.8, -15.7, -15.75, -15.85, -15.7, -15.65, -15.8,
   -15.75, -15.7, -15.85, -15.65, -15.75, -15.8, -15.7, -15.75, -15.65, -15.8, -15.7, -15.85, -15.75, -15.7,
   -15.8, -15.65, -15.75, -15.7, -15.8, -15.75, -15.7],
  [-15.9, -16.3, -16.1, -16.2, -16.0, -16.3, -15.95, -16.05, -15.9, -16.0, -15.85, -15.95, -16.05, -15.9,
   -15.8, -15.95, -15.9, -16.0, -15.85, -15.95, -15.9, -15.8, -15.95, -15.85, -16.0, -15.9, -15.85, -15.95,
   -15.9, -16.0, -15.85, -15.9, -15.95, -15.8, -15.9, -15.85, -16.0, -15.9, -15.95, -15.85, -15.9, -15.8,
   -15.95, -15.9, -15.85, -15.95, -15.9, -16.0, -15.9],
  [-15.5, -15.2, -15.3, -15.15, -15.25, -15.1, -15.2, -15.3, -15.1, -15.2, -15.05, -15.15, -15.25, -15.1,
   -15.2, -15.05, -15.15, -15.2, -15.1, -15.25, -15.15, -15.05, -15.2, -15.1, -15.15, -15.25, -15.05, -15.15,
   -15.2, -15.1, -15.0, -15.15, -15.2, -15.05, -15.15, -15.1, -15.2, -15.05, -15.15, -15.1, -15.0, -15.15,
   -15.05, -15.1, -15.2, -15.05, -15.15, -15.1, -15.05],
  [-16.3, -16.0, -15.7, -15.6, -15.75, -15.55, -15.65, -15.5, -15.7, -15.6, -15.5, -15.65, -15.55, -15.7,
   -15.6, -15.5, -15.65, -15.55, -15.6, -15.7, -15.5, -15.6, -15.55, -15.65, -15.5, -15.6, -15.7, -15.55,
   -15.6, -15.5, -15.65, -15.55, -15.6, -15.7, -15.55, -15.6, -15.5, -15.65, -15.55, -15.6, -15.5, -15.65,
   -15.6, -15.55, -15.65, -15.5, -15.6, -15.55, -15.65],
  [-16.5, -16.2, -16.0, -15.9, -16.0, -15.85, -15.95, -15.8, -15.9, -16.0, -15.85, -15.75, -15.9, -15.8,
   -15.95, -15.85, -15.75, -15.9, -15.8, -15.85, -15.95, -15.8, -15.9, -15.75, -15.85, -15.9, -15.8, -15.95,
   -15.85, -15.8, -15.9, -15.75, -15.85, -15.95, -15.8, -15.9, -15.85, -15.75, -15.9, -15.8, -15.85, -15.95,
   -15.8, -15.9, -15.85, -15.8, -15.9, -15.85, -15.8]
];
const logLowerColors = ['blue', 'orange', 'yellow', 'purple', 'green', 'cyan', 'red',
  'blue', 'orange', 'yellow', 'purple', 'green', 'cyan', 'red',
  'blue', 'orange', 'yellow', 'purple', 'green', 'cyan', 'red', 'blue',
  'orange', 'yellow', 'purple', 'green', 'cyan', 'red'];

const titleB = 'Difference curves: component vs. block recursion';
const titleC = 'Log10(Diff) curves: component vs. block recursion';

// ---------- styling ----------
const palette = {
  blue: '#0072BD', orange: '#D95319', yellow: '#EDB120', purple: '#7E2F8E',
  green: '#77AC30', cyan: '#4DBEEE', red: '#A2142F'
};
const FONT = "'Liberation Sans', Arial, Helvetica, sans-serif";
const SERIF = "'Liberation Serif', 'DejaVu Serif', serif";
const AXIS_C = '#262626';
const TICK_C = '#4d4d4d';
const GRID_C = '#dfdfdf';

function curve(xs, ys, color, grid) {
  return {
    type: 'line', xAxisIndex: grid, yAxisIndex: grid,
    data: ys.map((v, i) => [xs[i], v]),
    symbol: 'none', showSymbol: false, silent: true, clip: true,
    lineStyle: { color: palette[color], width: 1.8 },
    itemStyle: { color: palette[color] }
  };
}

function valueAxis(grid, extra) {
  return Object.assign({
    type: 'value', gridIndex: grid,
    axisLine: { show: true, onZero: false, lineStyle: { color: AXIS_C, width: 1 } },
    axisTick: { show: true, inside: true, length: 5, lineStyle: { color: AXIS_C } },
    axisLabel: { color: TICK_C, fontSize: 13, fontFamily: FONT, margin: 9 },
    splitLine: { show: true, lineStyle: { color: GRID_C, width: 1 } },
    nameTextStyle: { color: AXIS_C, fontSize: 16.5, fontFamily: FONT }
  }, extra);
}

const aAxisLabel = { color: TICK_C, fontSize: 9.5, fontFamily: FONT, margin: 7, customValues: aTicks };
const aAxisTick = { show: true, inside: true, length: 3, customValues: aTicks, lineStyle: { color: AXIS_C } };

const series = [];
// panel (a)
series.push({
  type: 'scatter', coordinateSystem: 'polar', polarIndex: 0, silent: true,
  symbolSize: 4, itemStyle: { color: '#000' },
  data: nodeRadii.flatMap(r => nodeAngles.map(a => [r, a]))
});
// panel (b)
diffFloor.forEach((ys, i) => series.push(curve(nDiff2, ys, diffFloorColors[i], 1)));
diffCurves.forEach((ys, i) => series.push(curve(nDiff2, ys, diffCurveColors[i], 1)));
series.push(curve(nDiff1, diffPurpleZig, 'purple', 1));
series.push(curve(nDiff1, diffBlueZig, 'blue', 1));
series.push(curve(nDiff1, diffCyanZig, 'cyan', 1));
series.push(curve(nDiff1, diffOrangeZig, 'orange', 1));
// panel (c)
logLower.forEach((ys, i) => series.push(curve(nLog2, ys, logLowerColors[i], 2)));
logDrop.forEach((ys, i) => series.push(curve(nLog1, ys, logDropColors[i], 2)));
logUpper.forEach((ys, i) => series.push(curve(nLog2, ys, logUpperColors[i], 2)));
series.push(curve(nLog1, logBlueZig, 'blue', 2));
series.push(curve(nLog1, logCyanZig, 'cyan', 2));
series.push(curve(nLog1, logOrangeZig, 'orange', 2));

const chart = echarts.init(document.getElementById('chart'), null, { renderer: 'canvas' });
chart.setOption({
  animation: false,
  backgroundColor: '#fff',
  grid: [
    { left: 267.4, top: 3, width: 277.5, height: 278.3, outerBoundsMode: 'none' },
    { left: 62, top: 415.5, width: 703, height: 267, outerBoundsMode: 'none' },
    { left: 62, top: 828, width: 703, height: 269, outerBoundsMode: 'none' }
  ],
  polar: { center: [406.15, 142.2], radius: 126.3 },
  angleAxis: {
    type: 'value', min: 0, max: 360, startAngle: 0, clockwise: false,
    axisLine: { show: false }, axisTick: { show: false }, axisLabel: { show: false },
    splitLine: { show: false }
  },
  radiusAxis: {
    type: 'value', min: 0, max: 1,
    axisLine: { show: false }, axisTick: { show: false }, axisLabel: { show: false },
    splitLine: { show: false }
  },
  xAxis: [
    valueAxis(0, { min: -1.1, max: 1.1, axisLabel: aAxisLabel, axisTick: aAxisTick }),
    valueAxis(1, { min: 0, max: 100, interval: 10,
      name: 'Polynomial order n', nameLocation: 'middle', nameGap: 28 }),
    valueAxis(2, { min: 0, max: 100, interval: 10,
      name: 'Polynomial order n', nameLocation: 'middle', nameGap: 28 })
  ],
  yAxis: [
    valueAxis(0, { min: -1.1, max: 1.1, axisLabel: aAxisLabel, axisTick: aAxisTick }),
    valueAxis(1, { min: 0, max: 5.5, interval: 1,
      axisLabel: { color: TICK_C, fontSize: 13, fontFamily: FONT, margin: 8, showMaxLabel: false },
      splitLine: { show: true, showMaxLine: false, lineStyle: { color: GRID_C, width: 1 } },
      name: 'Difference', nameLocation: 'middle', nameGap: 22 }),
    valueAxis(2, { min: -18, max: -10, interval: 2,
      axisLabel: { color: TICK_C, fontSize: 13, fontFamily: FONT, margin: 8 },
      name: 'Difference', nameLocation: 'middle', nameGap: 36 })
  ],
  graphic: [
    { type: 'rect', z: 100, shape: { x: 187.5, y: 428.5, width: 454, height: 27 },
      style: { fill: '#fff', stroke: '#262626', lineWidth: 1 } },
    { type: 'text', z: 101, x: 414, y: 442,
      style: { text: titleB, font: '18px ' + FONT, fill: '#000',
        align: 'center', verticalAlign: 'middle', textAlign: 'center', textVerticalAlign: 'middle' } },
    { type: 'rect', z: 100, shape: { x: 183.5, y: 840.5, width: 460, height: 27 },
      style: { fill: '#fff', stroke: '#262626', lineWidth: 1 } },
    { type: 'text', z: 101, x: 413, y: 854,
      style: { text: titleC, font: '18px ' + FONT, fill: '#000',
        align: 'center', verticalAlign: 'middle', textAlign: 'center', textVerticalAlign: 'middle' } },
    { type: 'text', z: 101, x: 63, y: 407,
      style: { text: '\u00d710', font: '13px ' + FONT, fill: TICK_C,
        align: 'left', verticalAlign: 'middle', textAlign: 'left', textVerticalAlign: 'middle' } },
    { type: 'text', z: 101, x: 89, y: 399,
      style: { text: '-14', font: '12px ' + FONT, fill: TICK_C,
        align: 'left', verticalAlign: 'middle', textAlign: 'left', textVerticalAlign: 'middle' } },
    { type: 'rect', z: 99, shape: { x: 375, y: 744, width: 36, height: 31 }, style: { fill: '#fde28c' } },
    { type: 'rect', z: 99, shape: { x: 375, y: 1157, width: 36, height: 31 }, style: { fill: '#fde28c' } },
    { type: 'text', z: 101, x: 392, y: 348,
      style: { text: '(a)', font: '26px ' + SERIF, fill: '#000',
        align: 'center', verticalAlign: 'middle', textAlign: 'center', textVerticalAlign: 'middle' } },
    { type: 'text', z: 101, x: 392, y: 760,
      style: { text: '(b)', font: '26px ' + SERIF, fill: '#000',
        align: 'center', verticalAlign: 'middle', textAlign: 'center', textVerticalAlign: 'middle' } },
    { type: 'text', z: 101, x: 392, y: 1172,
      style: { text: '(c)', font: '26px ' + SERIF, fill: '#000',
        align: 'center', verticalAlign: 'middle', textAlign: 'center', textVerticalAlign: 'middle' } }
  ],
  series: series
});
</script>
</body>
</html>
